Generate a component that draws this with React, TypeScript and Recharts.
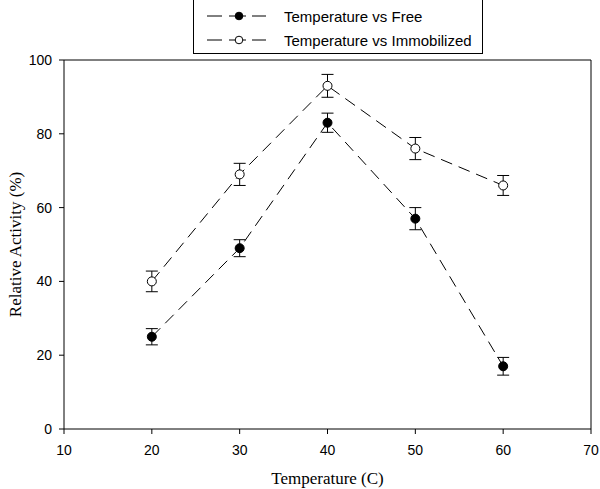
import { LineChart, Line, XAxis, YAxis, ErrorBar, ReferenceLine } from 'recharts';

const temperatures = [20, 30, 40, 50, 60];
const freeActivity = [25, 49, 83, 57, 17];
const freeError = [2.2, 2.3, 2.6, 3, 2.4];
const immobilizedActivity = [40, 69, 93, 76, 66];
const immobilizedError = [2.8, 3, 3.1, 3, 2.7];
const xTicks = [10, 20, 30, 40, 50, 60, 70];
const yTicks = [0, 20, 40, 60, 80, 100];
const seriesNames = ['Temperature vs Free', 'Temperature vs Immobilized'];

const chartData = temperatures.map((t, i) => ({
  temp: t,
  free: freeActivity[i],
  freeErr: freeError[i],
  immobilized: immobilizedActivity[i],
  immobilizedErr: immobilizedError[i],
}));

const sans = 'Arial, "Liberation Sans", Helvetica, sans-serif';
const serif = '"Times New Roman", "Liberation Serif", serif';

function LegendBox() {
  const fills = ['#000', '#fff'];
  return (
    <div
      style={{
        position: 'absolute',
        top: -2,
        left: 193,
        border: '1px solid #000',
        width: 290,
        height: 56,
        boxSizing: 'border-box',
        background: '#fff',
        fontFamily: sans,
        fontSize: 15,
        paddingTop: 5,
      }}
    >
      {seriesNames.map((name, i) => (
        <div key={name} style={{ display: 'flex', alignItems: 'center', height: 24 }}>
          <svg width={90} height={22}>
            <line x1={13} y1={11} x2={28} y2={11} stroke="#000" strokeWidth={1} />
            <line x1={35} y1={11} x2={52} y2={11} stroke="#000" strokeWidth={1} />
            <line x1={58} y1={11} x2={72} y2={11} stroke="#000" strokeWidth={1} />
            <circle cx={45} cy={11} r={3.8} fill={fills[i]} stroke="#000" strokeWidth={1} />
          </svg>
          <span>{name}</span>
        </div>
      ))}
    </div>
  );
}

export default function App() {
  return (
    <div style={{ position: 'absolute', top: 0, left: 0, background: '#fff', width: 600, height: 489 }}>
      <LineChart width={600} height={489} data={chartData} margin={{ top: 60, right: 9, bottom: 0, left: 0 }}>
        <XAxis
          dataKey="temp"
          type="number"
          domain={[10, 70]}
          ticks={xTicks}
          height={60}
          stroke="#000"
          tickSize={5}
          tickMargin={11}
          tick={{ fill: '#000', fontSize: 14, fontFamily: sans }}
          label={{ value: 'Temperature (C)', position: 'insideBottom', offset: 5, fill: '#000', fontSize: 17, fontFamily: serif }}
        />
        <YAxis
          type="number"
          domain={[0, 100]}
          ticks={yTicks}
          width={64}
          stroke="#000"
          tickSize={5}
          tickMargin={7}
          tick={{ fill: '#000', fontSize: 14, fontFamily: sans }}
          label={{ value: 'Relative Activity (%)', angle: -90, position: 'insideLeft', offset: 15, fill: '#000', fontSize: 17, fontFamily: serif, style: { textAnchor: 'middle' } }}
        />
        <ReferenceLine y={100} stroke="#000" />
        <ReferenceLine x={70} stroke="#000" />
        <Line
          name={seriesNames[0]}
          dataKey="free"
          stroke="#000"
          strokeWidth={1}
          strokeDasharray="12 7"
          dot={{ r: 4.5, fill: '#000', stroke: '#000', strokeWidth: 1, strokeDasharray: '' }}
          isAnimationActive={false}
        >
          <ErrorBar dataKey="freeErr" width={6} stroke="#000" strokeWidth={1} direction="y" />
        </Line>
        <Line
          name={seriesNames[1]}
          dataKey="immobilized"
          stroke="#000"
          strokeWidth={1}
          strokeDasharray="12 7"
          dot={{ r: 4.5, fill: '#fff', stroke: '#000', strokeWidth: 1, strokeDasharray: '' }}
          isAnimationActive={false}
        >
          <ErrorBar dataKey="immobilizedErr" width={6} stroke="#000" strokeWidth={1} direction="y" />
        </Line>
      </LineChart>
      <LegendBox />
    </div>
  );
}
